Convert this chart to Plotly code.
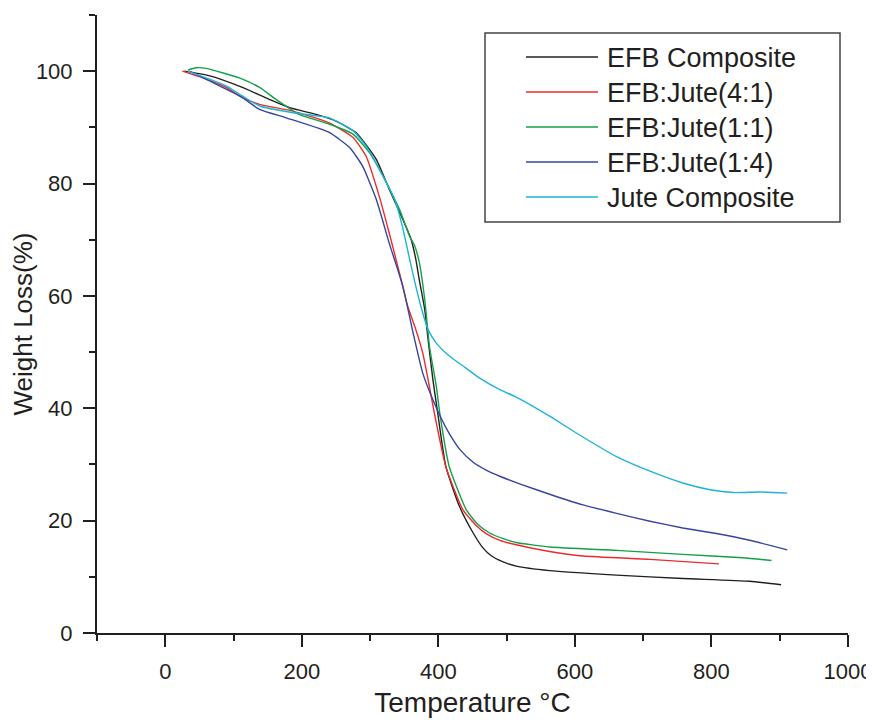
import plotly.graph_objects as go

names = ["EFB Composite", "EFB:Jute(4:1)", "EFB:Jute(1:1)", "EFB:Jute(1:4)", "Jute Composite"]
colors = ["#231f20", "#ee2a2a", "#12a14a", "#3446a0", "#1db4d8"]

efb_x = [28, 64, 113, 152, 182, 221, 250, 280, 309, 328, 348, 360, 367, 372, 380, 385, 392, 399, 411, 431, 451, 465, 478, 494, 514, 563, 661, 758, 856, 902]
efb_y = [100, 99.2, 97.1, 95.0, 93.5, 92.3, 91.1, 89.0, 84.3, 79.0, 73.6, 70.1, 66.5, 62.9, 57.6, 52.2, 45.1, 39.2, 29.6, 22.5, 17.8, 15.2, 13.7, 12.7, 11.9, 11.1, 10.3, 9.7, 9.2, 8.6]

r41_x = [25, 55, 89, 113, 138, 187, 240, 275, 294, 314, 328, 343, 355, 367, 377, 385, 394, 411, 436, 455, 470, 490, 514, 563, 612, 710, 811]
r41_y = [100, 98.8, 97.1, 95.3, 94.1, 92.9, 90.8, 88.2, 84.9, 77.5, 71.2, 64.1, 58.2, 54.0, 49.9, 45.1, 39.2, 29.6, 21.9, 19.2, 17.7, 16.5, 15.7, 14.5, 13.7, 13.1, 12.3]

r11_x = [33, 45, 60, 113, 138, 162, 196, 240, 275, 299, 319, 343, 358, 365, 372, 380, 387, 397, 402, 416, 441, 458, 475, 495, 514, 563, 661, 758, 846, 888]
r11_y = [100.2, 100.6, 100.5, 98.6, 97.1, 95.0, 92.3, 90.6, 88.8, 85.5, 81.3, 75.4, 70.6, 69.0, 66.0, 59.4, 51.0, 43.9, 39.2, 29.6, 21.9, 19.3, 17.8, 16.8, 16.1, 15.3, 14.7, 14.0, 13.4, 12.9]

r14_x = [35, 64, 89, 113, 138, 177, 240, 270, 289, 309, 328, 348, 363, 377, 392, 405, 416, 432, 451, 470, 490, 520, 563, 612, 661, 710, 758, 807, 856, 911]
r14_y = [100, 98.3, 96.8, 95.3, 93.2, 91.7, 89.1, 86.4, 83.1, 77.2, 69.4, 61.7, 53.4, 46.3, 41.5, 38.0, 35.5, 32.6, 30.4, 29.0, 27.9, 26.5, 24.7, 22.8, 21.3, 19.9, 18.7, 17.7, 16.5, 14.8]

jute_x = [33, 60, 89, 113, 138, 187, 240, 275, 294, 319, 338, 348, 358, 367, 377, 385, 397, 416, 440, 460, 490, 514, 563, 602, 661, 710, 758, 798, 832, 870, 911]
jute_y = [100, 98.8, 97.4, 95.6, 93.8, 92.6, 91.7, 89.4, 86.7, 81.3, 76.5, 72.0, 66.5, 61.7, 57.0, 54.0, 51.6, 49.3, 47.2, 45.4, 43.3, 42.0, 38.6, 35.6, 31.4, 28.8, 26.7, 25.5, 25.0, 25.1, 24.9]

series = [(efb_x, efb_y), (r41_x, r41_y), (r11_x, r11_y), (r14_x, r14_y), (jute_x, jute_y)]

FONT = "Liberation Sans, Arial, Helvetica, sans-serif"
TXT = "#231f20"

fig = go.Figure()
for (xs, ys), n, c in zip(series, names, colors):
    fig.add_trace(go.Scatter(x=xs, y=ys, mode="lines", name=n,
                             line=dict(color=c, width=1.4, shape="spline", smoothing=0.5),
                             showlegend=False))

# the page body has an 8px margin; size the figure so it fills the window exactly
OFF = 8
W, H = 874 - OFF, 722 - OFF
L, T, PW, PH = 97 - OFF, 15 - OFF, 751, 618


def px(xp):
    return (xp - OFF - L) / PW


def py(yp):
    return (T + PH - (yp - OFF)) / PH


shapes = [dict(type="rect", xref="paper", yref="paper",
               x0=px(485), x1=px(840), y0=py(222), y1=py(33),
               line=dict(color="#444444", width=1.5), fillcolor="rgba(0,0,0,0)")]
annotations = []
row_y = [57, 92, 127, 162, 197]
for n, c, ry in zip(names, colors, row_y):
    shapes.append(dict(type="line", xref="paper", yref="paper",
                       x0=px(526), x1=px(598), y0=py(ry), y1=py(ry),
                       line=dict(color=c, width=1.4)))
    annotations.append(dict(xref="paper", yref="paper", x=px(605), y=py(ry),
                            xanchor="left", yanchor="middle", text=n, showarrow=False,
                            font=dict(family=FONT, size=27, color=TXT), yshift=-1))

axis_common = dict(showline=True, linecolor=TXT, linewidth=2, ticks="outside",
                   tickcolor=TXT, tickwidth=2, ticklen=12, showgrid=False, zeroline=False,
                   tickfont=dict(family=FONT, size=22, color=TXT),
                   mirror=False, automargin=False)

fig.update_layout(
    width=W, height=H,
    margin=dict(l=L, r=W - L - PW, t=T, b=H - T - PH),
    plot_bgcolor="white", paper_bgcolor="white",
    shapes=shapes, annotations=annotations,
    xaxis=dict(range=[-100, 1000], tick0=0, dtick=200,
               minor=dict(dtick=100, ticks="outside", ticklen=6, tickwidth=2, tickcolor=TXT),
               title=dict(text="Temperature °C", font=dict(family=FONT, size=28, color=TXT), standoff=9),
               ticklabelstandoff=6,
               **axis_common),
    yaxis=dict(range=[0, 110], tick0=0, dtick=20,
               minor=dict(dtick=10, ticks="outside", ticklen=6, tickwidth=2, tickcolor=TXT),
               title=dict(text="Weight Loss(%)", font=dict(family=FONT, size=26, color=TXT), standoff=14),
               ticklabelstandoff=6,
               **axis_common),
)

fig.write_html("out.html")
